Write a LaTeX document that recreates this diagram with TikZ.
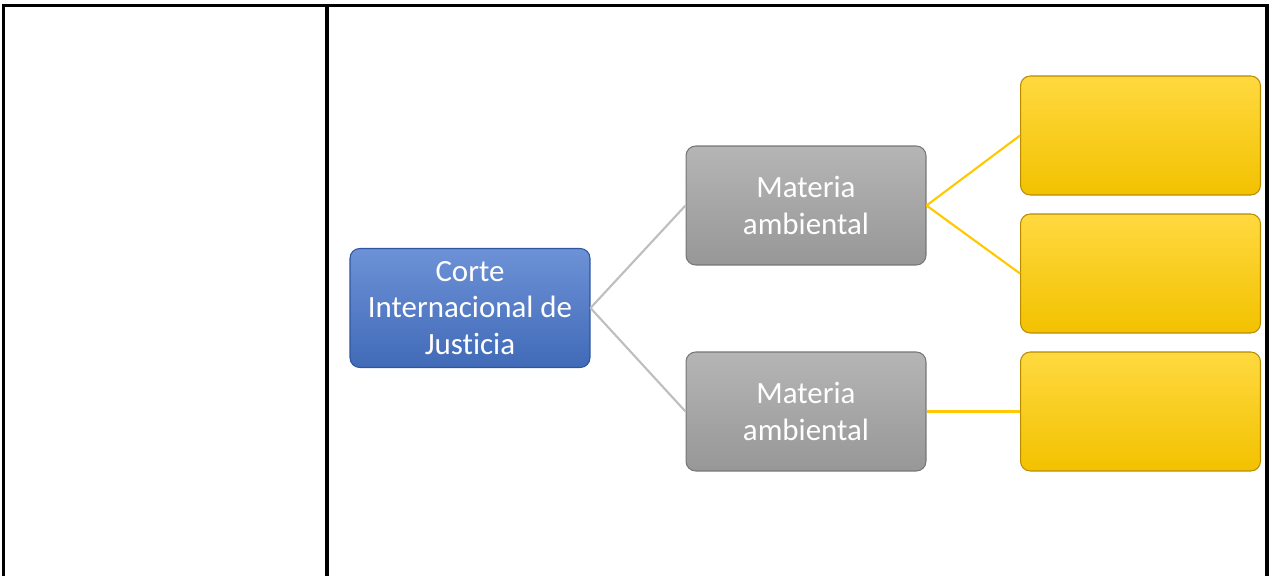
\documentclass[tikz,border=0pt]{standalone}
\usepackage{fontspec}
\setmainfont{Carlito}[Ligatures=NoCommon]
\usepackage{xcolor}
\usepackage{tikz}
\usetikzlibrary{positioning}
\definecolor{cortblue}{RGB}{72,118,204}
\definecolor{cortedge}{RGB}{45,85,160}
\definecolor{matgray}{RGB}{168,168,168}
\definecolor{matedge}{RGB}{118,118,118}
\definecolor{casoyellow}{RGB}{255,204,0}
\definecolor{casoedge}{RGB}{185,140,0}
\definecolor{linkgray}{RGB}{190,190,190}
\definecolor{linkyellow}{RGB}{255,200,0}

\begin{document}
\begin{tikzpicture}[
    x=0.02cm, y=-0.02cm,
    box/.style={rounded corners=5.5pt, minimum width=4.8cm, minimum height=2.38cm,
        align=center, text=white, line width=0.6pt,
        font=\fontsize{17.6}{20.6}\selectfont},
    corte/.style={box, draw=cortedge, top color=cortblue!80!white, bottom color=cortblue!90!black},
    materia/.style={box, draw=matedge, top color=matgray!85!white, bottom color=matgray!90!black},
    caso/.style={box, draw=casoedge, top color=casoyellow!75!white, bottom color=casoyellow!95!black},
    link/.style={line width=1.2pt}
]
\useasboundingbox (0,0) rectangle (1269,576);

% --- table frame ---
\draw[line width=1.8pt] (3.5,576) -- (3.5,5.5) -- (1269,5.5);
\draw[line width=1.8pt] (327,5.5) -- (327,576);
\draw[line width=1.8pt] (1267,5.5) -- (1267,576);

% --- boxes ---
\node[corte] (corte) at (470,308) {Corte\\Internacional de\\Justicia};
\node[materia] (mat1) at (806,205.5) {Materia\\ambiental};
\node[materia] (mat2) at (806,411.5) {Materia\\ambiental};
\node[caso] (caso1) at (1140.5,135.5) {};
\node[caso] (caso2) at (1140.5,273.5) {};
\node[caso] (caso3) at (1140.5,411.5) {};

% --- links ---
\draw[link, linkgray] (corte.east) -- (mat1.west);
\draw[link, linkgray] (corte.east) -- (mat2.west);
\draw[link, linkyellow] (mat1.east) -- (caso1.west);
\draw[link, linkyellow] (mat1.east) -- (caso2.west);
\draw[link, linkyellow] (mat2.east) -- (caso3.west);

\end{tikzpicture}
\end{document}
